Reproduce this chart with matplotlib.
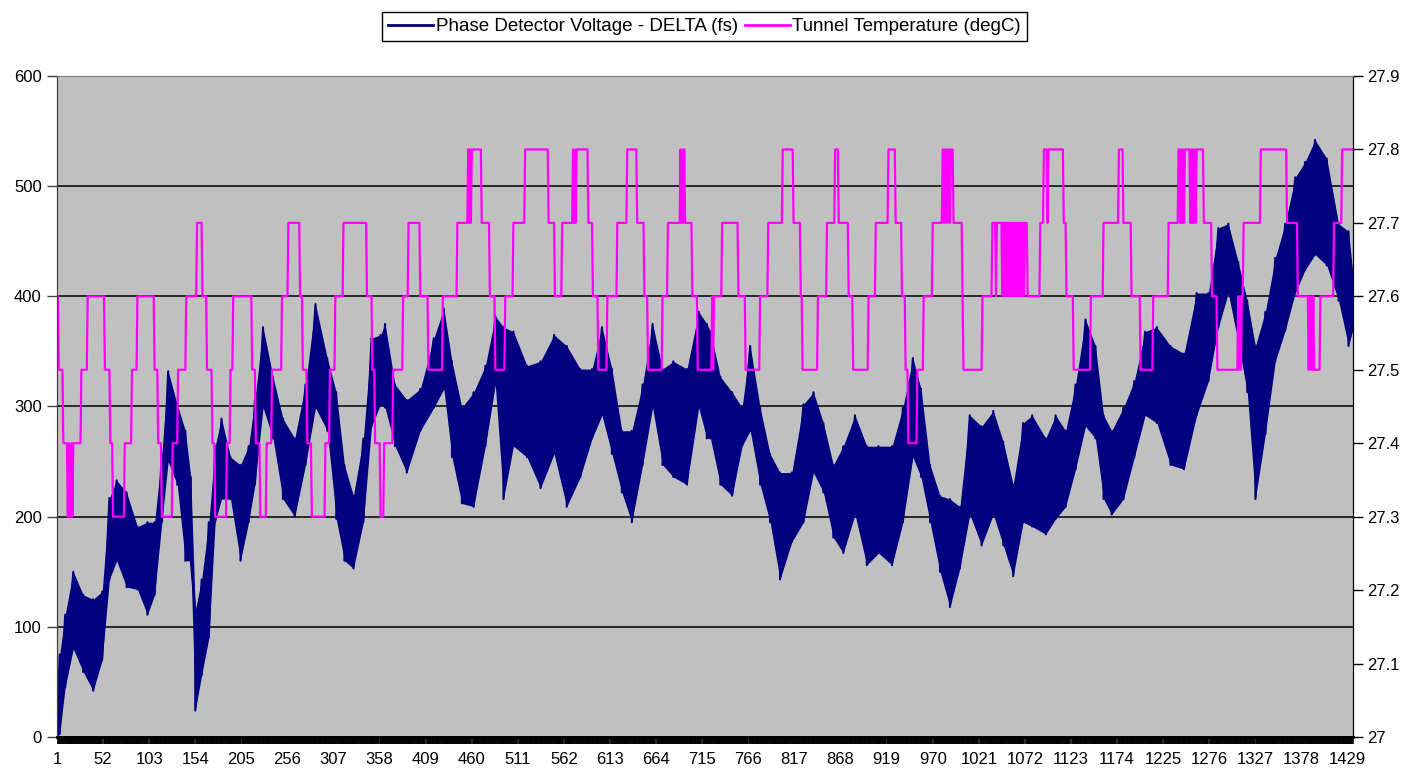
import numpy as np
import matplotlib
matplotlib.use("Agg")
import matplotlib.pyplot as plt
from matplotlib.ticker import FuncFormatter

plt.rcParams['font.family'] = ['Liberation Sans', 'DejaVu Sans']
plt.rcParams['font.size'] = 12

N = 1435  # number of samples on the category axis

# phase detector voltage (fs): sample number, upper and lower edge of the noise band
volt_idx = [1, 4, 10, 19, 30, 41, 51, 59, 67, 78, 90, 101, 109, 117, 124, 134, 143, 149, 154, 161,
            169, 176, 183, 193, 204, 213, 220, 229, 240, 251, 264, 276, 287, 300, 310, 319, 329, 340,
            349, 359, 364, 375, 388, 403, 418, 429, 438, 449, 462, 475, 486, 495, 506, 521, 536, 551,
            565, 580, 593, 604, 615, 626, 637, 649, 660, 671, 683, 698, 711, 720, 724, 735, 748, 759,
            768, 779, 790, 801, 814, 827, 838, 849, 860, 871, 884, 897, 910, 925, 937, 948, 957, 967,
            978, 989, 1000, 1011, 1024, 1037, 1048, 1059, 1070, 1080, 1095, 1106, 1117, 1128, 1139,
            1150, 1159, 1168, 1181, 1193, 1205, 1218, 1233, 1248, 1262, 1275, 1286, 1297, 1308, 1318,
            1327, 1338, 1349, 1360, 1371, 1382, 1393, 1406, 1419, 1430, 1435]
volt_hi = [8, 75, 111, 150, 129, 125, 132, 217, 233, 222, 191, 195, 195, 257, 332, 302, 278, 236, 115, 143,
           195, 264, 289, 254, 247, 264, 306, 372, 327, 289, 271, 320, 393, 344, 313, 247, 219, 271,
           362, 365, 375, 320, 306, 316, 362, 389, 341, 299, 313, 337, 382, 372, 368, 337, 341, 365,
           355, 334, 334, 372, 334, 278, 278, 320, 375, 334, 341, 334, 386, 375, 368, 327, 313, 299,
           355, 299, 257, 240, 240, 302, 313, 285, 247, 264, 292, 264, 264, 264, 299, 344, 316, 247,
           219, 216, 209, 292, 282, 296, 268, 229, 285, 292, 271, 292, 278, 320, 379,
           355, 292, 278, 299, 323, 368, 372, 355, 348, 403, 403, 462, 466, 431, 396,
           355, 386, 435, 466, 508, 522, 542, 525, 466, 459, 420]
volt_lo = [0, 3, 45, 80, 59, 42, 70, 143, 160, 136, 134, 111, 129, 195, 250, 229, 160, 160, 24, 56,
           90, 195, 216, 216, 160, 195, 229, 299, 271, 216, 200, 247, 299, 278, 198, 160, 153, 195,
           282, 302, 299, 264, 240, 278, 299, 316, 254, 212, 209, 264, 320, 216, 264, 254, 226, 257,
           209, 236, 271, 292, 257, 222, 195, 247, 299, 247, 236, 229, 299, 271, 271, 229, 219, 264,
           278, 229, 195, 143, 177, 195, 240, 222, 181, 167, 202, 156, 167, 156, 195, 254, 236, 195,
           150, 118, 153, 202, 174, 202, 174, 146, 195, 191, 184, 198, 209, 243, 282,
           271, 216, 202, 216, 254, 292, 285, 247, 243, 292, 323, 372, 403, 358, 313,
           216, 275, 341, 369, 403, 424, 438, 428, 396, 355, 370]

# tunnel temperature (degC): sample where each level starts, and the level
temp_start = [1, 3, 8, 13, 14, 15, 17, 18, 19, 28, 35, 54, 60, 63, 76, 84, 90, 109, 113, 117,
              129, 135, 144, 156, 162, 167, 173, 176, 189, 193, 196, 217, 221, 226, 233, 239, 250,
              257, 270, 273, 278, 283, 298, 303, 309, 318, 344, 350, 353, 359, 363, 373, 384, 390,
              403, 412, 428, 444, 456, 457, 458, 459, 460, 471, 480, 486, 497, 506, 519, 545, 552,
              560, 572, 573, 574, 575, 576, 589, 594, 600, 610, 621, 632, 643, 651, 655, 671, 677,
              691, 692, 693, 694, 695, 696, 704, 710, 726, 727, 728, 737, 755, 763, 779, 788, 804,
              816, 824, 826, 843, 853, 862, 866, 877, 882, 899, 907, 921, 929, 936, 940, 943, 953,
              960, 970, 981, 983, 984, 986, 987, 989, 990, 993, 1003, 1004, 1025, 1036, 1040, 1041,
              1047, 1048, 1050, 1051, 1053, 1054, 1056, 1057, 1059, 1060, 1062, 1063, 1065, 1066,
              1068, 1069, 1071, 1072, 1075, 1089, 1093, 1097, 1098, 1115, 1118, 1126, 1145, 1159,
              1176, 1181, 1190, 1200, 1214, 1231, 1242, 1244, 1245, 1246, 1247, 1248, 1249, 1255,
              1256, 1257, 1258, 1259, 1260, 1261, 1262, 1270, 1279, 1285, 1308, 1309, 1310, 1311,
              1312, 1314, 1333, 1362, 1374, 1386, 1387, 1388, 1389, 1390, 1391, 1392, 1399, 1414,
              1423]
temp_level = [27.6, 27.5, 27.4, 27.3, 27.4, 27.3, 27.4, 27.3, 27.4, 27.5, 27.6, 27.5, 27.4, 27.3, 27.4, 27.5, 27.6, 27.5, 27.4, 27.3,
              27.4, 27.5, 27.6, 27.7, 27.6, 27.5, 27.4, 27.3, 27.4, 27.5, 27.6, 27.5, 27.4, 27.3, 27.4, 27.5, 27.6,
              27.7, 27.6, 27.5, 27.4, 27.3, 27.4, 27.5, 27.6, 27.7, 27.6, 27.5, 27.4, 27.3, 27.4, 27.5, 27.6, 27.7,
              27.6, 27.5, 27.6, 27.7, 27.8, 27.7, 27.8, 27.7, 27.8, 27.7, 27.6, 27.5, 27.6, 27.7, 27.8, 27.7, 27.6,
              27.7, 27.8, 27.7, 27.8, 27.7, 27.8, 27.7, 27.6, 27.5, 27.6, 27.7, 27.8, 27.7, 27.6, 27.5, 27.6, 27.7,
              27.8, 27.7, 27.8, 27.7, 27.8, 27.7, 27.6, 27.5, 27.6, 27.5, 27.6, 27.7, 27.6, 27.5, 27.6, 27.7, 27.8,
              27.7, 27.6, 27.5, 27.6, 27.7, 27.8, 27.7, 27.6, 27.5, 27.6, 27.7, 27.8, 27.7, 27.6, 27.5, 27.4, 27.5,
              27.6, 27.7, 27.8, 27.7, 27.8, 27.7, 27.8, 27.7, 27.8, 27.7, 27.6, 27.5, 27.6, 27.7, 27.6, 27.7,
              27.6, 27.7, 27.6, 27.7, 27.6, 27.7, 27.6, 27.7, 27.6, 27.7, 27.6, 27.7, 27.6, 27.7,
              27.6, 27.7, 27.6, 27.7, 27.6, 27.7, 27.8, 27.7, 27.8, 27.7, 27.6, 27.5, 27.6, 27.7,
              27.8, 27.7, 27.6, 27.5, 27.6, 27.7, 27.8, 27.7, 27.8, 27.7, 27.8, 27.7, 27.8, 27.7,
              27.8, 27.7, 27.8, 27.7, 27.8, 27.7, 27.8, 27.7, 27.6, 27.5, 27.6, 27.5, 27.6, 27.5,
              27.6, 27.7, 27.8, 27.7, 27.6, 27.5, 27.6, 27.5, 27.6, 27.5, 27.6, 27.5, 27.6, 27.7,
              27.8]

xtick_pos = list(range(1, 1430, 51))
left_ticks = [0, 100, 200, 300, 400, 500, 600]
right_ticks = [27.0, 27.1, 27.2, 27.3, 27.4, 27.5, 27.6, 27.7, 27.8, 27.9]

# expand the temperature steps to one value per sample
runs = np.diff(temp_start + [N + 1])
temp = np.repeat(temp_level, runs)
samples = np.arange(1, N + 1)

fig = plt.figure(figsize=(14.09, 7.76), dpi=100)
ax = fig.add_axes([57 / 1409, 39 / 776, 1296 / 1409, 661 / 776])
ax.set_facecolor('#c0c0c0')

navy = '#000080'
# noise band of the voltage trace, with the trace swinging between its edges
ax.fill_between(volt_idx, volt_lo, volt_hi, color=navy, lw=0)
zig_x = np.repeat(volt_idx, 2)
zig_y = np.column_stack([volt_hi, volt_lo]).ravel()
l1, = ax.plot(zig_x, zig_y, color=navy, lw=1.5, label='Phase Detector Voltage - DELTA (fs)')

ax.set_xlim(1, N)
ax.set_ylim(0, 600)
ax.set_yticks(left_ticks)
ax.yaxis.grid(True, color='black', lw=1.1)
ax.set_axisbelow(True)

ax.set_xticks(xtick_pos)
ax.set_xticklabels([str(v) for v in xtick_pos])
ax.set_xticks(samples, minor=True)
ax.tick_params(axis='x', which='major', length=0, pad=11)
ax.tick_params(axis='x', which='minor', length=5, width=1.2, color='black')
ax.tick_params(axis='y', length=7, width=1, color='#404040', pad=4)

ax2 = ax.twinx()
l2, = ax2.plot(samples, temp, color='#ff00ff', lw=1.6, label='Tunnel Temperature (degC)')
ax2.set_ylim(27.0, 27.9)
ax2.set_yticks(right_ticks)
ax2.yaxis.set_major_formatter(FuncFormatter(lambda v, p: f'{v:.1f}'.rstrip('0').rstrip('.')))
ax2.tick_params(axis='y', length=7, width=1, color='black', pad=3)

for a in (ax, ax2):
    a.spines['top'].set_color('#808080')
    a.spines['left'].set_color('#404040')
    a.spines['right'].set_color('black')
    a.spines['bottom'].set_color('black')
    a.spines['bottom'].set_linewidth(2)

leg = fig.legend([l1, l2], [l1.get_label(), l2.get_label()], loc='center',
                 bbox_to_anchor=(0.5, 1 - 26.5 / 776), ncol=2, frameon=True, fancybox=False,
                 edgecolor='black', framealpha=1, handlelength=2.4, handletextpad=0.15,
                 columnspacing=0.35, borderpad=0.3, fontsize=13.5)
leg.get_frame().set_linewidth(1)
for h in leg.get_lines():
    h.set_linewidth(2)

fig.savefig('out.png', dpi=100)
